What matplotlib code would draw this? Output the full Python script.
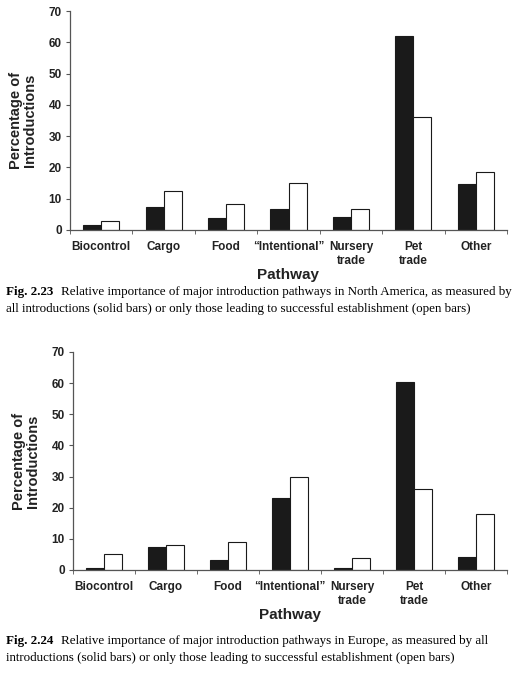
import numpy as np
import matplotlib
matplotlib.use("Agg")
from matplotlib import pyplot as plt

categories = ["Biocontrol", "Cargo", "Food", "\u201cIntentional\u201d", "Nursery\ntrade", "Pet\ntrade", "Other"]
na_all = [1.7, 7.2, 3.7, 6.7, 4.3, 61.9, 14.7]
na_est = [2.9, 12.6, 8.3, 15.1, 6.8, 36.0, 18.4]
eu_all = [0.5, 7.5, 3.2, 23.1, 0.5, 60.3, 4.1]
eu_est = [5.0, 8.0, 9.1, 30.0, 3.9, 26.0, 18.1]

cap1 = ["Relative importance of major introduction pathways in North America, as measured by",
        "all introductions (solid bars) or only those leading to successful establishment (open bars)"]
cap2 = ["Relative importance of major introduction pathways in Europe, as measured by all",
        "introductions (solid bars) or only those leading to successful establishment (open bars)"]

W, H = 529, 674
fig = plt.figure(figsize=(W / 100, H / 100), dpi=100)
sans = "Liberation Sans"
serif = "Liberation Serif"
axcol = "#555555"


def box(l, t, r, b):
    return [l / W, 1 - b / H, (r - l) / W, (b - t) / H]


def draw(ax, solid, opened):
    x = np.arange(len(categories))
    w = 0.29
    ax.bar(x - w / 2, solid, w, color="#1a1a1a", edgecolor="#1a1a1a", linewidth=0.8)
    ax.bar(x + w / 2, opened, w, color="white", edgecolor="#1a1a1a", linewidth=0.8)
    ax.set_xlim(-0.5, len(categories) - 0.5)
    ax.set_ylim(0, 70)
    ax.set_yticks(range(0, 71, 10))
    ax.set_xticks(x)
    ax.set_xticklabels(categories, fontfamily=sans, fontweight="bold", fontsize=8.5, color="#222222",
                       linespacing=1.2)
    ax.set_xticks(np.arange(len(categories) + 1) - 0.5, minor=True)
    ax.tick_params(axis="x", which="major", length=0, pad=8)
    ax.tick_params(axis="x", which="minor", length=3, color=axcol, direction="out")
    ax.tick_params(axis="y", length=3, color=axcol, labelsize=8.5, pad=3, labelcolor="#222222")
    for lab in ax.get_yticklabels():
        lab.set_fontfamily(sans)
        lab.set_fontweight("bold")
    for s in ["top", "right"]:
        ax.spines[s].set_visible(False)
    for s in ["left", "bottom"]:
        ax.spines[s].set_color(axcol)
        ax.spines[s].set_linewidth(0.9)
    ax.set_ylabel("Percentage of\nIntroductions", fontfamily=sans, fontweight="bold", fontsize=10.5,
                  linespacing=1.0, color="#222222", labelpad=8)
    ax.set_xlabel("Pathway", fontfamily=sans, fontweight="bold", fontsize=11, color="#222222",
                  labelpad=1)


ax1 = fig.add_axes(box(70, 11, 507, 230))
draw(ax1, na_all, na_est)
ax2 = fig.add_axes(box(73, 352, 507, 570))
draw(ax2, eu_all, eu_est)

fig.canvas.draw()
renderer = fig.canvas.get_renderer()


def caption(label, lines, y0):
    t = fig.text(6 / W, 1 - y0 / H, label, fontfamily=serif, fontweight="bold", fontsize=9.35,
                 va="baseline", ha="left")
    bb = t.get_window_extent(renderer)
    fig.text((bb.x1 + 8) / W, 1 - y0 / H, lines[0], fontfamily=serif, fontsize=9.35,
             va="baseline", ha="left")
    fig.text(6 / W, 1 - (y0 + 17) / H, lines[1], fontfamily=serif, fontsize=9.35,
             va="baseline", ha="left")


caption("Fig. 2.23", cap1, 295)
caption("Fig. 2.24", cap2, 644)

fig.savefig("out.png", dpi=100)
